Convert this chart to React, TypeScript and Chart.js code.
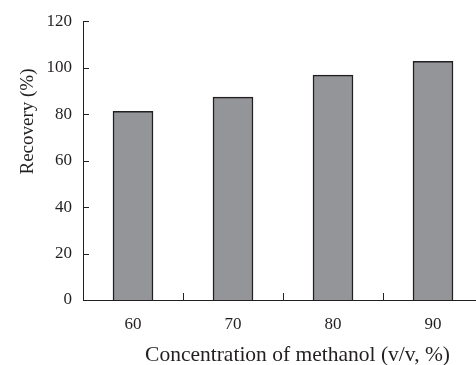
import React, { useEffect, useRef } from "react";
import { Chart, registerables } from "chart.js";

Chart.register(...registerables);

const categories = [60, 70, 80, 90];
const recovery = [81.2, 87.3, 96.8, 102.7];
const xBoundaryTicks = [65, 75, 85];
const yTitle = "Recovery (%)";
const xTitle = "Concentration of methanol (v/v, %)";

const FONT = "'Liberation Serif', 'Times New Roman', serif";
const INK = "#231f20";

const innerTicksAndTitles = {
  id: "innerTicksAndTitles",
  afterDraw(chart: any) {
    const { ctx, chartArea } = chart;
    const xs = chart.scales.x;
    const ys = chart.scales.y;
    ctx.save();
    ctx.strokeStyle = INK;
    ctx.lineWidth = 1;
    ctx.beginPath();
    for (const t of ys.ticks) {
      const py = Math.round(ys.getPixelForValue(t.value)) + 0.5;
      ctx.moveTo(chartArea.left, py);
      ctx.lineTo(chartArea.left + 6, py);
    }
    for (const v of xBoundaryTicks) {
      const px = Math.round(xs.getPixelForValue(v)) + 0.5;
      ctx.moveTo(px, chartArea.bottom);
      ctx.lineTo(px, chartArea.bottom - 7);
    }
    ctx.stroke();

    ctx.fillStyle = INK;
    ctx.font = `21.5px ${FONT}`;
    ctx.textAlign = "center";
    ctx.textBaseline = "alphabetic";
    ctx.fillText(xTitle, 297.5, 361);

    ctx.font = `19px ${FONT}`;
    ctx.translate(33, 121.5);
    ctx.rotate(-Math.PI / 2);
    ctx.fillText(yTitle, 0, 0);
    ctx.restore();
  },
};

export default function App() {
  const ref = useRef<HTMLCanvasElement | null>(null);

  useEffect(() => {
    document.body.style.margin = "0";
    const canvas = ref.current;
    if (!canvas) return;
    const chart = new Chart(canvas, {
      type: "bar",
      data: {
        datasets: [
          {
            data: categories.map((c, i) => ({ x: c, y: recovery[i] })),
            backgroundColor: "#939598",
            borderColor: INK,
            borderWidth: 1.5,
            barThickness: 40,
          },
        ],
      },
      options: {
        animation: false,
        responsive: false,
        maintainAspectRatio: false,
        layout: { padding: { top: 21, right: 0, left: 0, bottom: 0 } },
        plugins: {
          legend: { display: false },
          tooltip: { enabled: false },
        },
        scales: {
          x: {
            type: "linear",
            min: 55,
            max: 94.3,
            offset: false,
            grid: { display: false, drawTicks: false, offset: false },
            border: { display: true, color: INK, width: 1 },
            ticks: {
              stepSize: 5,
              includeBounds: false,
              autoSkip: false,
              maxRotation: 0,
              padding: 14,
              color: INK,
              font: { family: FONT, size: 17 },
              callback: (v: any) => (categories.includes(Number(v)) ? String(v) : ""),
            },
            afterFit: (s: any) => {
              s.height = 65;
              s.paddingLeft = 0;
              s.paddingRight = 0;
            },
          },
          y: {
            min: 0,
            max: 120,
            grid: { display: false, drawTicks: false },
            border: { display: true, color: INK, width: 1 },
            ticks: {
              stepSize: 20,
              padding: 11,
              color: INK,
              font: { family: FONT, size: 17 },
            },
            afterFit: (s: any) => {
              s.width = 83;
            },
          },
        },
      },
      plugins: [innerTicksAndTitles],
    });
    return () => chart.destroy();
  }, []);

  return (
    <div style={{ position: "absolute", left: 0, top: 0, width: 476, height: 365 }}>
      <canvas ref={ref} width={476} height={365} style={{ display: "block" }} />
    </div>
  );
}
